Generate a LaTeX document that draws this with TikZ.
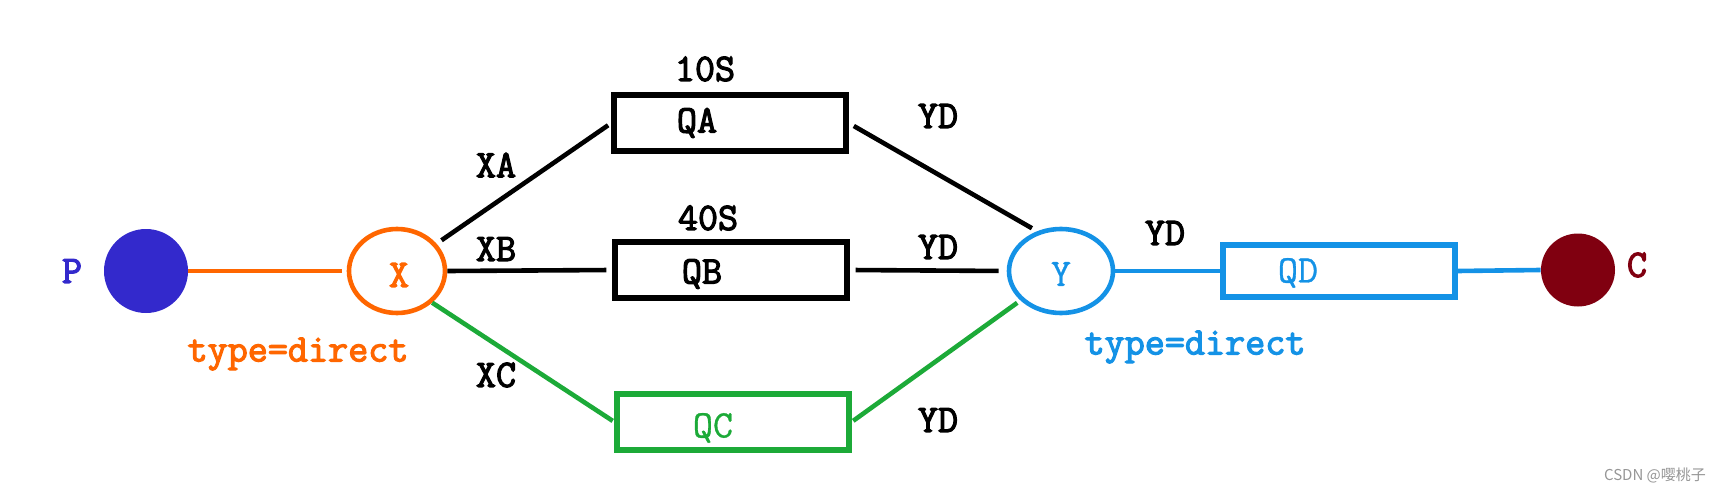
\documentclass[tikz,border=0pt]{standalone}
\usepackage{fontspec}
\newfontface\courb{Latin Modern Mono}[FakeBold=3]
\newfontface\courreg{Latin Modern Mono}[FakeBold=0.8]
\newfontfamily\cjkfont{Noto Sans CJK SC}
\usetikzlibrary{shapes.geometric}
\definecolor{pblue}{RGB}{51,41,204}
\definecolor{xorange}{RGB}{255,102,0}
\definecolor{yblue}{RGB}{20,146,230}
\definecolor{qgreen}{RGB}{28,170,56}
\definecolor{cred}{RGB}{128,0,16}
\definecolor{wmgray}{RGB}{150,150,150}
\tikzset{
  lbl/.style={font=\courb\fontsize{19.5}{22}\selectfont, inner sep=0pt},
  lblr/.style={font=\courreg\fontsize{19.5}{22}\selectfont, inner sep=0pt},
  qbox/.style={draw, line width=2.6pt, minimum width=116pt, minimum height=28pt, inner sep=0pt},
  conn/.style={line width=2.3pt},
  exch/.style={ellipse, line width=2.3pt, minimum height=42pt, inner sep=0pt},
}
\begin{document}
\begin{tikzpicture}[x=0.5pt, y=-0.5pt]
\useasboundingbox (0,0) rectangle (1720,492);
% endpoints
\node[circle, fill=pblue, minimum size=42pt, inner sep=0pt] (P) at (146,271) {};
\node[lbl, text=pblue] (Pt) at (72,271) {P};
\node[exch, draw=xorange, minimum width=48pt] (X) at (397,271) {};
\node[lbl, text=xorange] (Xt) at (399,275) {X};
\node[lbl, text=xorange] (Xtype) at (298,354) {type=direct};
\node[exch, draw=yblue, minimum width=52pt] (Y) at (1061,271) {};
\node[lblr, text=yblue] (Yt) at (1061,274) {Y};
\node[lbl, text=yblue] (Ytype) at (1195,347) {type=direct};
\node[ellipse, fill=cred, minimum width=37pt, minimum height=36.5pt, inner sep=0pt] (C) at (1578,270) {};
\node[lbl, text=cred] (Ct) at (1637,265) {C};
% queues
\node[qbox] (QA) at (730,123) {};
\node[lbl] (QAt) at (697,123) {QA};
\node[lbl] (TA) at (705,69) {10S};
\node[qbox] (QB) at (731,270) {};
\node[lbl] (QBt) at (702,274) {QB};
\node[lbl] (TB) at (708,218) {40S};
\node[qbox, draw=qgreen] (QC) at (733,422) {};
\node[lblr, text=qgreen] (QCt) at (713,428) {QC};
\node[qbox, draw=yblue, minimum height=26pt] (QD) at (1339,271) {};
\node[lblr, text=yblue] (QDt) at (1298,273) {QD};
% routing-key labels
\node[lbl] (XA) at (496,165) {XA};
\node[lbl] (XB) at (496,249) {XB};
\node[lbl] (XC) at (496,375) {XC};
\node[lbl] (YD1) at (938,116) {YD};
\node[lbl] (YD2) at (938,247) {YD};
\node[lbl] (YD3) at (938,420) {YD};
\node[lbl] (YD4) at (1165,233) {YD};
% connectors
\draw[conn, xorange, shorten >=2.5pt] (P.east) -- (X.west);
\draw[conn, shorten <=3pt, shorten >=2pt] (X) -- (QA.west);
\draw[conn, shorten >=3pt] (X.east) -- (QB.west);
\draw[conn, qgreen, shorten >=1pt] (X.-42) -- (QC.west);
\draw[conn, shorten <=3pt, shorten >=3pt] (QA.east) -- (Y.121);
\draw[conn, shorten <=3pt, shorten >=4pt] (QB.east) -- (Y.west);
\draw[conn, qgreen, shorten <=1pt, shorten >=2pt] (QC.east) -- (Y.216);
\draw[conn, yblue] (Y.east) -- (QD.west);
\draw[conn, yblue] (QD.east) -- (C.west);
% watermark
\node[font=\cjkfont\fontsize{7.5}{9}\selectfont, text=wmgray, inner sep=0pt] (wm) at (1655,475) {CSDN @嘤桃子};
\end{tikzpicture}
\end{document}
